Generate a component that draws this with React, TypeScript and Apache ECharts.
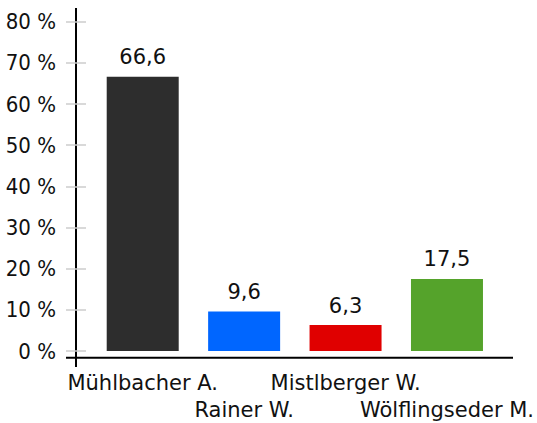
import React, { useEffect, useRef } from "react";
import * as echarts from "echarts";

const categories = ["Mühlbacher A.", "Rainer W.", "Mistlberger W.", "Wölflingseder M."];
const values = [66.6, 9.6, 6.3, 17.5];
const colors = ["#2d2d2d", "#0066ff", "#e00000", "#55a32b"];
const yTicks = [0, 10, 20, 30, 40, 50, 60, 70, 80];

const FONT = "DejaVu Sans";
const FONT_C = "DejaVu Sans Condensed";

export default function App() {
  const ref = useRef<HTMLDivElement>(null);
  useEffect(() => {
    document.body.style.margin = "0";
    if (!ref.current) return;
    const chart = echarts.init(ref.current, null, { renderer: "svg" });
    chart.setOption({
      animation: false,
      textStyle: { fontFamily: FONT },
      grid: { left: 92, right: 39, top: 21.7, bottom: 66.5 },
      xAxis: {
        type: "category",
        data: categories,
        axisLine: { show: false },
        axisTick: { show: false },
        axisLabel: {
          interval: 0,
          color: "#111",
          fontSize: 21,
          fontFamily: FONT,
          margin: 18,
          lineHeight: 27,
          formatter: (v: string) => {
            const i = categories.indexOf(v);
            return i % 2 === 1 ? "\n" + v : v;
          },
        },
      },
      yAxis: {
        type: "value",
        min: yTicks[0],
        max: yTicks[yTicks.length - 1],
        interval: 10,
        offset: 6,
        axisLine: { show: false },
        axisTick: { show: true, length: 20, lineStyle: { color: "#cccccc", width: 1.5 } },
        splitLine: { show: false },
        axisLabel: {
          color: "#111",
          fontSize: 22,
          fontFamily: FONT_C,
          margin: 30,
          formatter: (v: number) => v + " %",
        },
      },
      series: [
        {
          type: "bar",
          barWidth: 72,
          data: values.map((v, i) => ({ value: v, itemStyle: { color: colors[i] } })),
          label: {
            show: true,
            position: "top",
            distance: 9,
            color: "#111",
            fontSize: 21,
            fontFamily: FONT,
            formatter: (p: any) => String(p.value).replace(".", ","),
          },
        },
      ],
      graphic: [
        { type: "line", shape: { x1: 76, y1: 8, x2: 76, y2: 367 }, style: { stroke: "#000", lineWidth: 2 } },
        { type: "line", shape: { x1: 66, y1: 357.8, x2: 513, y2: 357.8 }, style: { stroke: "#000", lineWidth: 2 } },
      ],
    });
    return () => chart.dispose();
  }, []);
  return <div ref={ref} style={{ width: 537, height: 423 }} />;
}
